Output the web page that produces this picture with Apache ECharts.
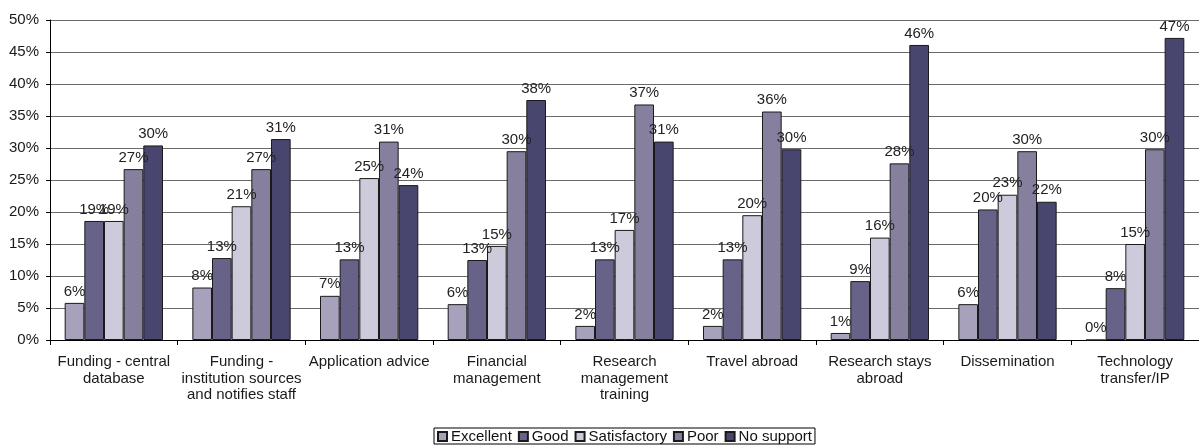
<!DOCTYPE html>
<html>
<head>
<meta charset="utf-8">
<script src="https://cdn.jsdelivr.net/npm/echarts@6/dist/echarts.min.js"></script>
<style>
  html, body { margin: 0; padding: 0; background: #fff; }
  #chart { width: 1199px; height: 446px; }
</style>
</head>
<body>
<div id="chart"></div>
<script>
// Support areas (tick labels wrapped as they appear under the axis)
const categories = [
  'Funding - central\ndatabase',
  'Funding -\ninstitution sources\nand notifies staff',
  'Application advice',
  'Financial\nmanagement',
  'Research\nmanagement\ntraining',
  'Travel abroad',
  'Research stays\nabroad',
  'Dissemination',
  'Technology\ntransfer/IP'
];

const seriesNames = ['Excellent', 'Good', 'Satisfactory', 'Poor', 'No support'];

// Share of respondents per rating (%)
const excellent    = [5.8, 8.2, 6.9, 5.6, 2.2, 2.2, 1.1, 5.6, 0.0];
const good         = [18.6, 12.8, 12.6, 12.5, 12.6, 12.6, 9.2, 20.4, 8.1];
const satisfactory = [18.6, 20.9, 25.3, 14.7, 17.2, 19.5, 16.0, 22.7, 15.0];
const poor         = [26.7, 26.7, 31.0, 29.5, 36.8, 35.7, 27.6, 29.5, 29.8];
const noSupport    = [30.4, 31.4, 24.2, 37.5, 31.0, 29.8, 46.1, 21.6, 47.2];

const colors = ['#a7a1bb', '#676388', '#cdcbdb', '#86809e', '#48466f'];
const values = [excellent, good, satisfactory, poor, noSupport];

const font = 'Liberation Sans, Arial, sans-serif';
const fs = 15;

const chart = echarts.init(document.getElementById('chart'), null, { renderer: 'canvas' });

chart.setOption({
  animation: false,
  textStyle: { fontFamily: font },
  grid: { left: 50, right: 0, top: 20, bottom: 106, containLabel: false },
  legend: {
    data: seriesNames,
    left: 434,
    top: 428,
    icon: 'rect',
    itemWidth: 9,
    itemHeight: 9,
    itemGap: 6,
    padding: [1, 3, 0, 3],
    borderColor: '#000',
    borderWidth: 1,
    textStyle: { fontFamily: font, fontSize: fs, color: '#111', padding: [0, 0, 0, -1] }
  },
  xAxis: {
    type: 'category',
    data: categories,
    axisLine: { lineStyle: { color: '#000', width: 1 } },
    axisTick: { show: true, length: 5, alignWithLabel: false, lineStyle: { color: '#000' } },
    axisLabel: {
      interval: 0,
      margin: 14,
      fontFamily: font,
      fontSize: fs,
      color: '#1a1a1a',
      lineHeight: 16.5
    },
    splitLine: { show: false }
  },
  yAxis: {
    type: 'value',
    min: 0,
    max: 50,
    interval: 5,
    axisLine: { show: true, lineStyle: { color: '#000', width: 1 } },
    axisTick: { show: true, length: 4, lineStyle: { color: '#000' } },
    axisLabel: {
      formatter: '{value}%',
      fontFamily: font,
      fontSize: fs,
      color: '#1a1a1a',
      margin: 11
    },
    splitLine: { show: true, lineStyle: { color: '#6a6a6a', width: 1.2 } }
  },
  series: seriesNames.map((name, i) => ({
    name: name,
    type: 'bar',
    data: values[i],
    barGap: '0%',
    barCategoryGap: '23%',
    itemStyle: { color: colors[i], borderColor: '#1a1a1a', borderWidth: 1 },
    label: {
      show: true,
      position: 'top',
      distance: 4,
      formatter: p => Math.round(p.value) + '%',
      fontFamily: font,
      fontSize: fs,
      color: '#222'
    }
  }))
});
</script>
</body>
</html>
